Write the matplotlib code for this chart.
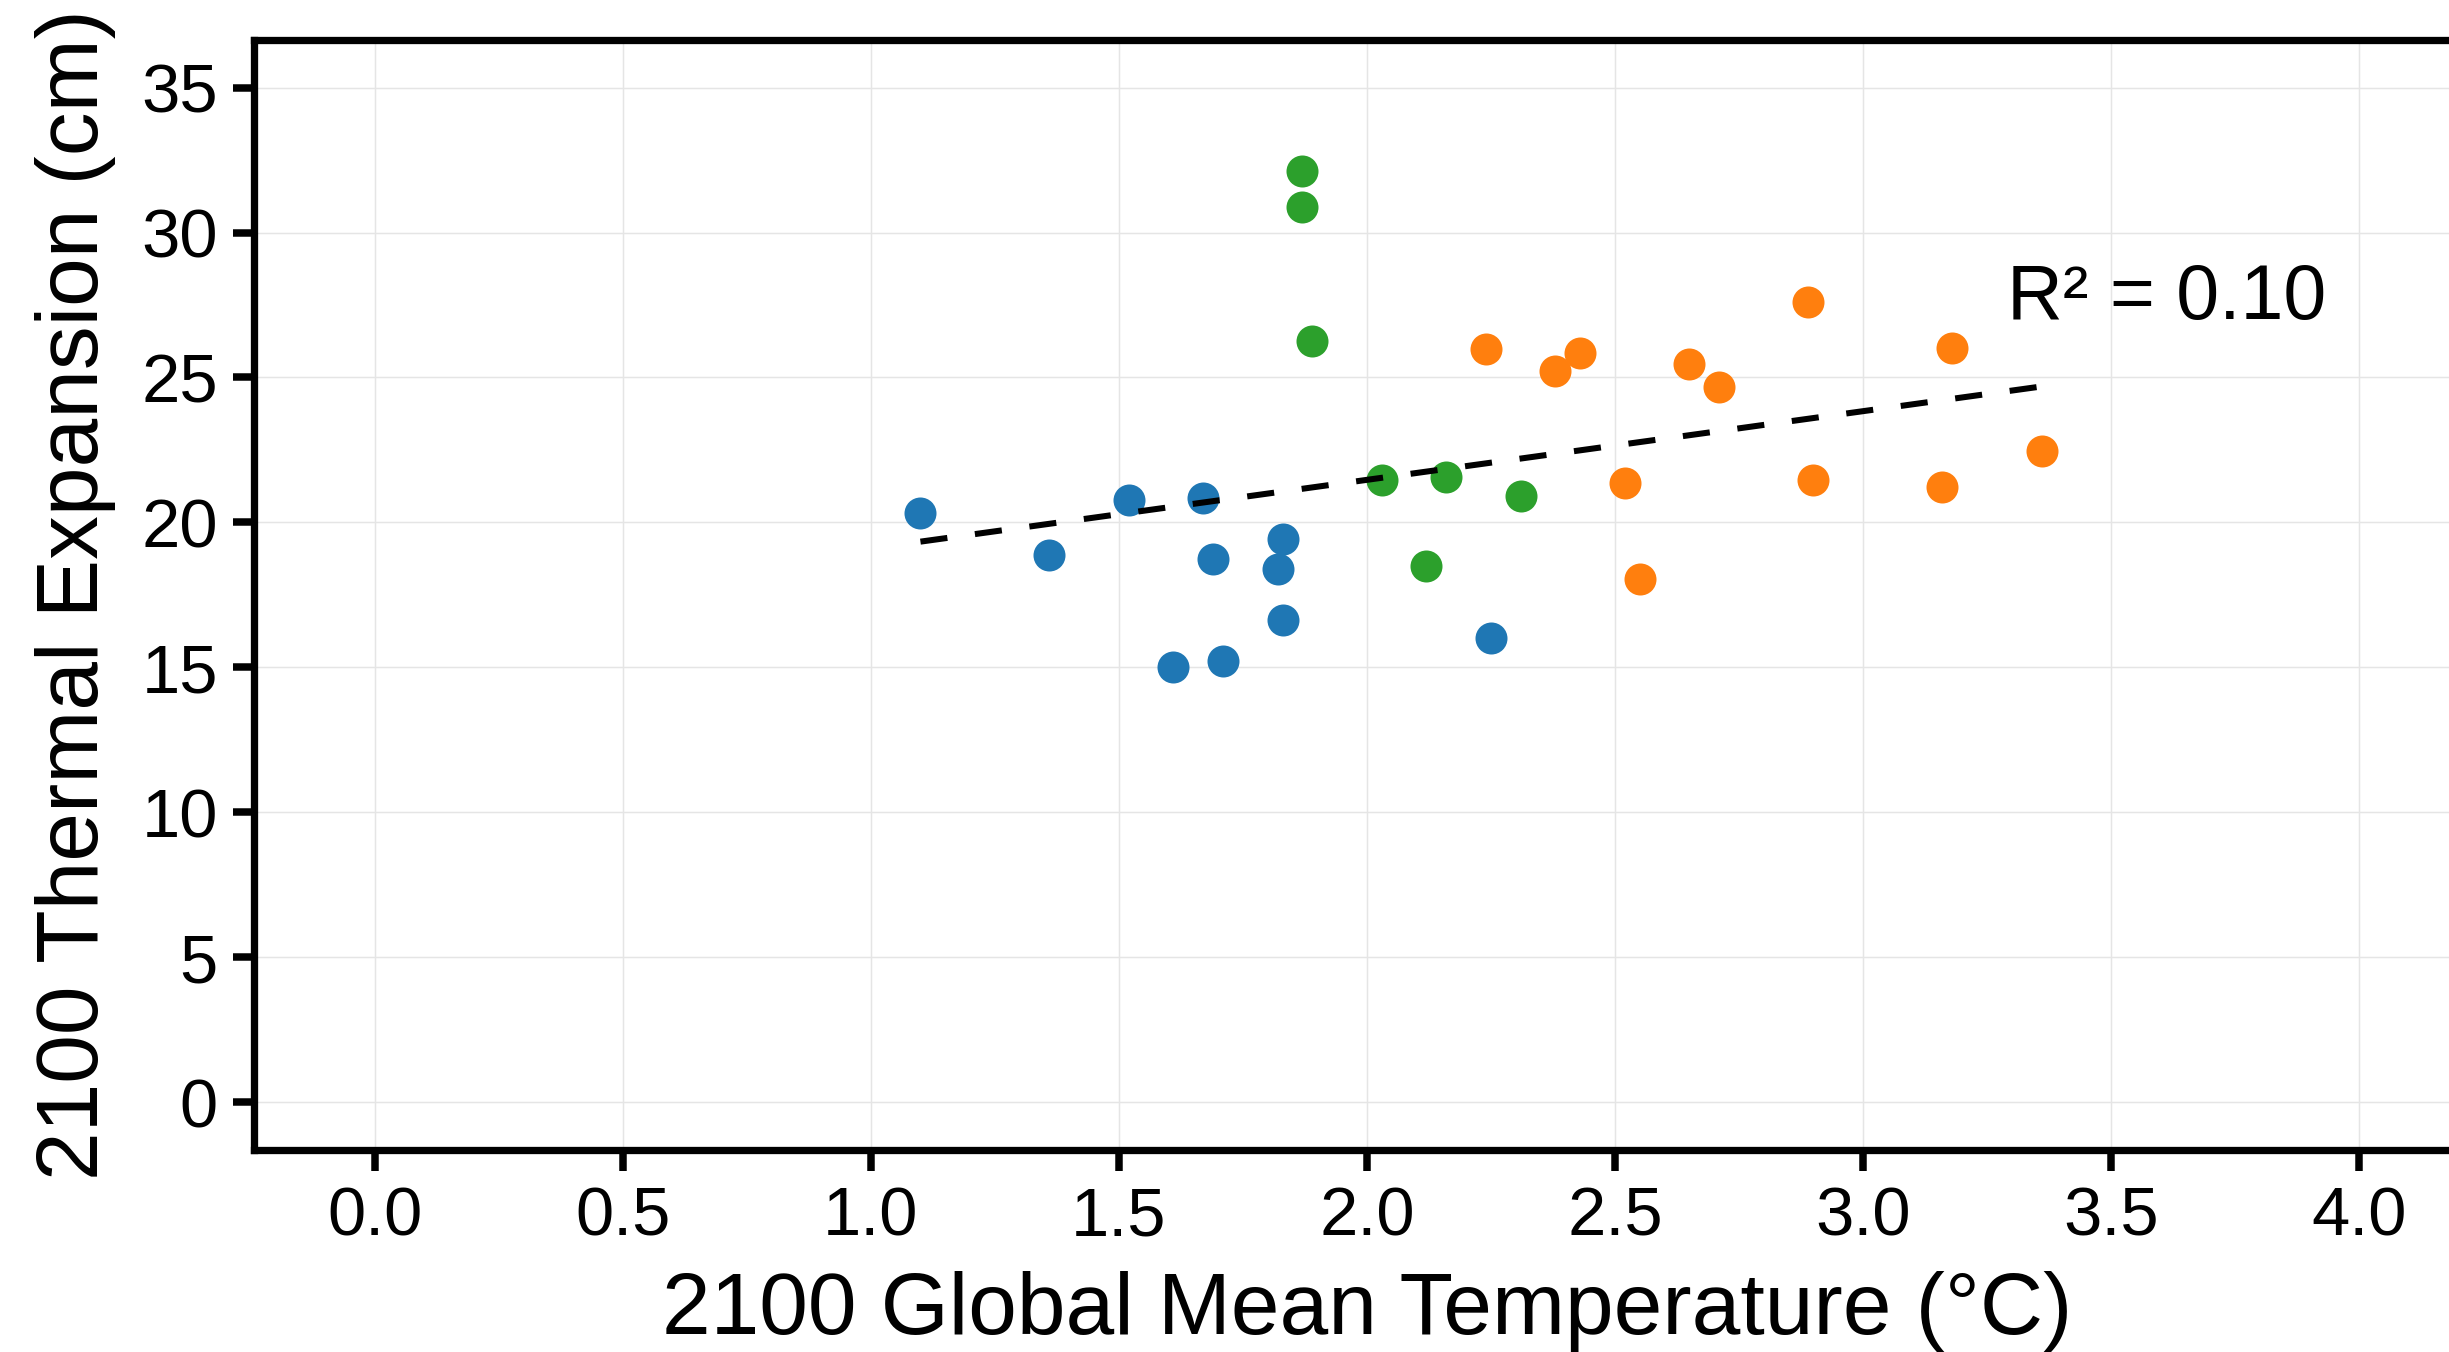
import matplotlib

matplotlib.use("Agg")
import matplotlib.pyplot as plt
import numpy as np

plt.rcParams["font.family"] = ["Liberation Sans", "DejaVu Sans"]

# 2100 global mean temperature (degC) vs thermal expansion (cm)
blue_temp = [1.10, 1.36, 1.52, 1.67, 1.69, 1.83, 1.82, 1.83, 1.61, 1.71, 2.25]
blue_exp = [20.31, 18.87, 20.76, 20.84, 18.74, 19.44, 18.41, 16.62, 15.02, 15.22, 16.00]

orange_temp = [2.24, 2.38, 2.43, 2.52, 2.55, 2.65, 2.71, 2.89, 2.90, 3.16, 3.18, 3.36]
orange_exp = [25.97, 25.22, 25.86, 21.37, 18.06, 25.47, 24.66, 27.62, 21.47, 21.23, 26.01, 22.48]

green_temp = [1.87, 1.87, 1.89, 2.03, 2.16, 2.31, 2.12]
green_exp = [32.11, 30.87, 26.25, 21.48, 21.57, 20.91, 18.50]

x_ticks = [0.0, 0.5, 1.0, 1.5, 2.0, 2.5, 3.0, 3.5, 4.0]
y_ticks = [0, 5, 10, 15, 20, 25, 30, 35]

fig = plt.figure(figsize=(2449 / 300, 1352 / 300), dpi=300)
ax = fig.add_axes([0.1036, 0.1494, 1.0127 - 0.1036, 0.8212])

for xs, ys, c in [
    (blue_temp, blue_exp, "#1f77b4"),
    (orange_temp, orange_exp, "#ff7f0e"),
    (green_temp, green_exp, "#2ca02c"),
]:
    ax.scatter(xs, ys, s=59, color=c, linewidths=0, zorder=3)

# least-squares fit over all models
all_x = np.array(blue_temp + orange_temp + green_temp)
all_y = np.array(blue_exp + orange_exp + green_exp)
slope, icept = np.polyfit(all_x, all_y, 1)
fx = np.array([all_x.min(), all_x.max()])
ax.plot(fx, slope * fx + icept, color="black", lw=1.45, dashes=(4.5, 4.6), zorder=4)

ax.text(3.29, 27.0, "R² = 0.10", fontsize=18.5, ha="left", va="baseline")

ax.set_xlim(-0.244, 4.244)
ax.set_ylim(-1.65, 36.65)
ax.set_xticks(x_ticks)
ax.set_xticklabels([f"{t:.1f}" for t in x_ticks])
ax.set_yticks(y_ticks)
ax.grid(color="#e5e5e5", lw=0.35, zorder=0)
ax.set_axisbelow(True)

for side in ["left", "bottom", "top", "right"]:
    ax.spines[side].set_linewidth(1.75)
ax.tick_params(direction="out", length=5, width=1.8, labelsize=16.5, pad=3.6)

ax.set_xlabel("2100 Global Mean Temperature (°C)", fontsize=21, labelpad=5)
ax.set_ylabel("2100 Thermal Expansion (cm)", fontsize=21, labelpad=6)

fig.savefig("out.png", dpi=300)
